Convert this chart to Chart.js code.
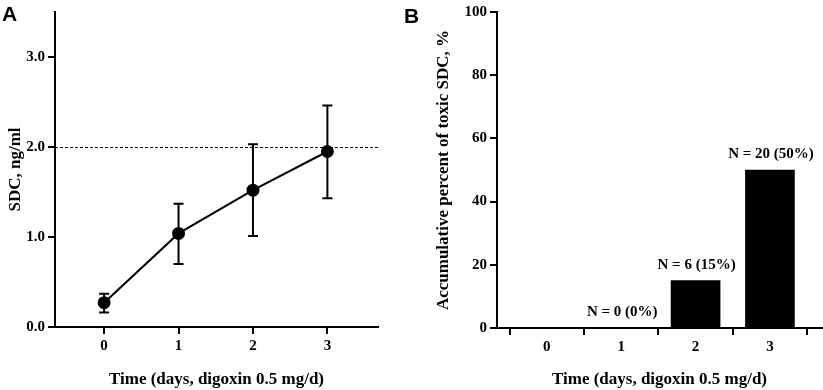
<!DOCTYPE html>
<html lang="en">
<head>
<meta charset="UTF-8">
<title>Digoxin SDC over time</title>
<script src="https://cdn.jsdelivr.net/npm/chart.js"></script>
<style>
  body { margin: 0; background: #fff; width: 823px; height: 390px; position: relative; overflow: hidden; }
  .panel { position: absolute; top: 0; height: 390px; }
  #panelA { left: 0; width: 411px; }
  #panelB { left: 411px; width: 412px; }
  .tag { position: absolute; font-family: 'Liberation Sans', Arial, sans-serif; font-weight: bold; font-size: 21px; line-height: 1; }
</style>
</head>
<body>
<div id="panelA" class="panel"><canvas id="chartA"></canvas></div>
<div id="panelB" class="panel"><canvas id="chartB"></canvas></div>
<div class="tag" style="left:2px; top:3px;">A</div>
<div class="tag" style="left:404px; top:5px;">B</div>

<script>
// panel A: serum digoxin concentration, mean with error bars
const days = [0, 1, 2, 3];
const sdcMean = [0.27, 1.04, 1.52, 1.95];
const sdcLow = [0.16, 0.70, 1.01, 1.43];
const sdcHigh = [0.37, 1.37, 2.03, 2.46];
const toxicLevel = 2.0;
const sdcTicks = [0, 1, 2, 3];

// panel B: cumulative percent of toxic SDC
const toxicPct = [0, 0, 15, 50];
const toxicN = [null, 0, 6, 20];
const pctTicks = [0, 20, 40, 60, 80, 100];

const serif = "'Liberation Serif', 'Times New Roman', serif";
Chart.defaults.color = '#000';
Chart.defaults.font.family = serif;
Chart.defaults.font.weight = 'bold';

const tickFont = { family: serif, size: 15, weight: 'bold' };
const titleFont = { family: serif, size: 17, weight: 'bold' };
const gridOpts = { display: true, drawOnChartArea: false, drawTicks: true, tickLength: 7, color: '#000', lineWidth: 2 };
const borderOpts = { display: true, color: '#000', width: 2 };

const errorBars = {
  id: 'errorBars',
  beforeDatasetsDraw(chart) {
    const { ctx, scales: { x, y } } = chart;
    ctx.save();
    ctx.strokeStyle = '#000';
    ctx.lineWidth = 2;
    days.forEach((d, i) => {
      const px = x.getPixelForValue(d);
      const top = y.getPixelForValue(sdcHigh[i]);
      const bot = y.getPixelForValue(sdcLow[i]);
      ctx.beginPath();
      ctx.moveTo(px, top); ctx.lineTo(px, bot);
      ctx.moveTo(px - 5, top); ctx.lineTo(px + 5, top);
      ctx.moveTo(px - 5, bot); ctx.lineTo(px + 5, bot);
      ctx.stroke();
    });
    ctx.restore();
  }
};

const thresholdLine = {
  id: 'thresholdLine',
  beforeDatasetsDraw(chart) {
    const { ctx, chartArea, scales: { y } } = chart;
    const py = Math.round(y.getPixelForValue(toxicLevel)) + 0.5;
    ctx.save();
    ctx.strokeStyle = '#000';
    ctx.lineWidth = 1;
    ctx.setLineDash([3, 2]);
    ctx.beginPath();
    ctx.moveTo(chartArea.left, py);
    ctx.lineTo(chartArea.right, py);
    ctx.stroke();
    ctx.restore();
  }
};

const barLabels = {
  id: 'barLabels',
  afterDatasetsDraw(chart) {
    const { ctx, scales: { x, y } } = chart;
    ctx.save();
    ctx.fillStyle = '#000';
    ctx.font = `bold 15px ${serif}`;
    ctx.textAlign = 'center';
    ctx.textBaseline = 'bottom';
    days.forEach((d, i) => {
      if (toxicN[i] === null) return;
      ctx.fillText(`N = ${toxicN[i]} (${toxicPct[i]}%)`, x.getPixelForValue(d) + 1, y.getPixelForValue(toxicPct[i]) - 8);
    });
    ctx.restore();
  }
};

new Chart(document.getElementById('chartA'), {
  type: 'line',
  data: {
    datasets: [{
      data: days.map((d, i) => ({ x: d, y: sdcMean[i] })),
      borderColor: '#000',
      backgroundColor: '#000',
      borderWidth: 2,
      pointRadius: 5.5,
      pointBackgroundColor: '#000',
      tension: 0
    }]
  },
  options: {
    responsive: true,
    maintainAspectRatio: false,
    animation: false,
    layout: { padding: { top: 6, right: 33, left: 0, bottom: 0 } },
    plugins: { legend: { display: false }, tooltip: { enabled: false } },
    scales: {
      x: {
        type: 'linear', min: -0.66, max: 3.68,
        afterBuildTicks: s => { s.ticks = days.map(v => ({ value: v })); },
        afterFit: s => { s.height = 63; },
        ticks: { font: tickFont, padding: 3 },
        grid: gridOpts, border: borderOpts,
        title: { display: true, text: 'Time (days, digoxin 0.5 mg/d)', font: titleFont, padding: { top: 4, bottom: 0 } }
      },
      y: {
        type: 'linear', min: 0, max: 3.5,
        afterBuildTicks: s => { s.ticks = sdcTicks.map(v => ({ value: v })); },
        afterFit: s => { s.width = 55; },
        ticks: { font: tickFont, padding: 3, callback: v => v.toFixed(1) },
        grid: gridOpts, border: borderOpts,
        title: { display: true, text: 'SDC, ng/ml', font: titleFont, padding: { top: 5, bottom: 0 } }
      }
    }
  },
  plugins: [thresholdLine, errorBars]
});

new Chart(document.getElementById('chartB'), {
  type: 'bar',
  data: {
    datasets: [{
      data: days.map((d, i) => ({ x: d, y: toxicPct[i] })),
      backgroundColor: '#000',
      borderWidth: 0,
      barThickness: 49
    }]
  },
  options: {
    responsive: true,
    maintainAspectRatio: false,
    animation: false,
    layout: { padding: { top: 6, right: 1, left: 0, bottom: 0 } },
    plugins: { legend: { display: false }, tooltip: { enabled: false } },
    scales: {
      x: {
        type: 'linear', min: -0.67, max: 3.70, offset: false,
        afterBuildTicks: s => { s.ticks = days.map(v => ({ value: v })); },
        afterFit: s => { s.height = 62; },
        ticks: { font: tickFont, padding: 3 },
        grid: gridOpts, border: borderOpts,
        title: { display: true, text: 'Time (days, digoxin 0.5 mg/d)', font: titleFont, padding: { top: 4, bottom: 0 } }
      },
      y: {
        type: 'linear', min: 0, max: 100,
        afterBuildTicks: s => { s.ticks = pctTicks.map(v => ({ value: v })); },
        afterFit: s => { s.width = 86; },
        ticks: { font: tickFont, padding: 3 },
        grid: gridOpts, border: borderOpts,
        title: { display: true, text: 'Accumulative percent of toxic SDC, %', font: titleFont, padding: { top: 22, bottom: 0 } }
      }
    }
  },
  plugins: [barLabels]
});
</script>
</body>
</html>
